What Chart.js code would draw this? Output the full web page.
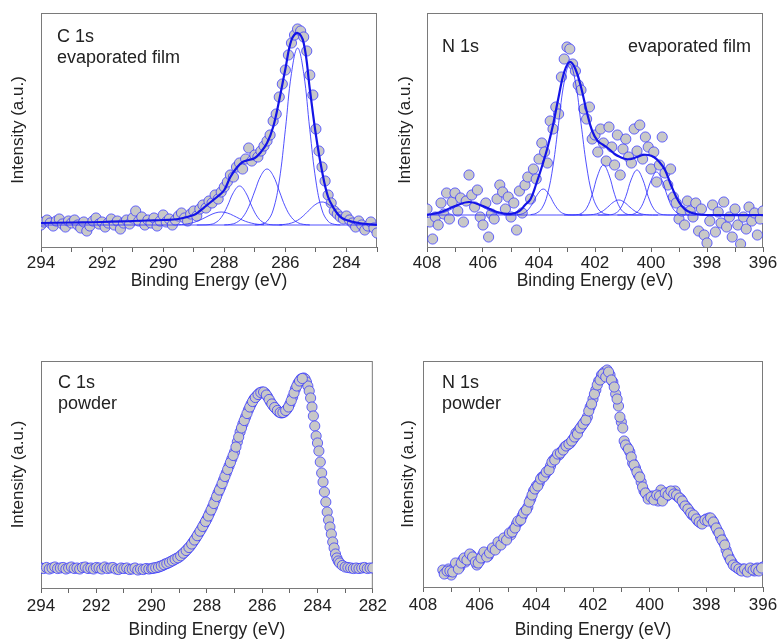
<!DOCTYPE html>
<html>
<head>
<meta charset="utf-8">
<script src="https://cdn.jsdelivr.net/npm/chart.js@4.4.1/dist/chart.umd.min.js"></script>
<style>
  html, body { margin: 0; padding: 0; background: #fff; }
  #wrap { position: relative; width: 783px; height: 643px; }
  canvas { position: absolute; }
</style>
</head>
<body>
<div id="wrap">
  <canvas id="c1sFilm" width="390" height="310" style="left:0;top:0"></canvas>
  <canvas id="n1sFilm" width="393" height="310" style="left:390px;top:0"></canvas>
  <canvas id="c1sPowder" width="390" height="323" style="left:0;top:320px"></canvas>
  <canvas id="n1sPowder" width="393" height="323" style="left:390px;top:320px"></canvas>
</div>
<script>
// ---- C 1s, evaporated film: measured points (binding energy eV, intensity a.u.)
const c1sFilmE = [294.0,293.9,293.8,293.7,293.6,293.5,293.4,293.3,293.2,293.1,
  293.0,292.9,292.8,292.7,292.6,292.5,292.4,292.3,292.2,292.1,
  292.0,291.9,291.8,291.7,291.6,291.5,291.4,291.3,291.2,291.1,
  291.0,290.9,290.8,290.7,290.6,290.5,290.4,290.3,290.2,290.1,
  290.0,289.9,289.8,289.7,289.6,289.5,289.4,289.3,289.2,289.1,
  289.0,288.9,288.8,288.7,288.6,288.5,288.4,288.3,288.2,288.1,
  288.0,287.9,287.8,287.7,287.6,287.5,287.4,287.3,287.2,287.1,
  287.0,286.9,286.8,286.7,286.6,286.5,286.4,286.3,286.2,286.1,
  286.0,285.9,285.8,285.7,285.6,285.5,285.4,285.3,285.2,285.1,
  285.0,284.9,284.8,284.7,284.6,284.5,284.4,284.3,284.2,284.1,
  284.0,283.9,283.8,283.7,283.6,283.5,283.4,283.3,283.2,283.1,
  283.0];
const c1sFilmI = [22,25,27,24,21,26,28,23,20,26,
  24,27,22,19,25,16,21,26,29,23,
  25,20,24,28,22,26,18,24,27,23,
  29,36,26,30,22,27,24,29,21,26,
  32,25,28,22,27,31,34,29,26,33,
  36,31,38,42,39,46,44,52,48,55,
  60,65,72,70,80,84,78,88,99,86,
  92,90,96,101,106,112,126,133,150,163,
  177,192,204,212,218,216,210,196,172,152,
  118,96,80,66,52,44,36,33,30,28,
  31,27,24,20,26,22,17,21,25,19,
  14];
// fit envelope and baseline
const c1sFilmEnvE = [294,293,292,291,290.5,290,289.5,289.0,288.8,288.6,288.4,288.2,288.0,287.8,287.6,287.4,287.2,287.0,286.8,286.6,286.4,286.2,286.0,285.8,285.6,285.4,285.2,285.0,284.8,284.6,284.4,284.2,284.0,283.6,283.0];
const c1sFilmEnvI = [24,24.5,25,26,26.5,27,28,32,36,41,46,51,57,70,79,85,87,89,95,104,120,147,178,207,214,204,158,112,76,50,38,30,27,24,22];
const c1sFilmBaseE = [294, 283];
const c1sFilmBaseI = [22, 22];
// fit components
const c1sFilmPk1E = [289.5,289.3,289.1,288.9,288.7,288.5,288.3,288.1,287.9,287.7,287.5,287.3,287.1,286.9,286.7];
const c1sFilmPk1I = [22.3,22.7,23.8,25.6,28.3,31.4,34,35,34,31.4,28.3,25.6,23.8,22.7,22.3];
const c1sFilmPk2E = [288.9,288.7,288.5,288.3,288.1,287.9,287.7,287.5,287.3,287.1,286.9,286.7,286.5,286.3,286.1];
const c1sFilmPk2I = [22,22.1,22.4,24.1,29.5,40.7,54.5,61,54.5,40.7,29.5,24.1,22.4,22.1,22];
const c1sFilmPk3E = [288.0,287.8,287.6,287.4,287.2,287.0,286.8,286.6,286.4,286.2,286.0,285.8,285.6,285.4,285.2];
const c1sFilmPk3I = [22.1,22.6,24.5,29.6,40.2,56,71.4,78,71.4,56,40.2,29.6,24.5,22.6,22.1];
const c1sFilmPk4E = [287.0,286.8,286.6,286.4,286.2,286.0,285.8,285.6,285.4,285.2,285.0,284.8,284.6,284.4,284.2];
const c1sFilmPk4I = [22.1,22.7,25.7,37,66,117.4,173.7,199,173.7,117.4,66,37,25.7,22.7,22.1];
const c1sFilmPk5E = [286.2,286.0,285.8,285.6,285.4,285.2,285.0,284.8,284.6,284.4,284.2,284.0,283.8,283.6,283.4];
const c1sFilmPk5I = [22.2,22.7,24,26.7,31.5,37.5,42.8,45,42.8,37.5,31.5,26.7,24,22.7,22.2];

// ---- N 1s, evaporated film
const n1sFilmE = [408.0,407.9,407.8,407.7,407.6,407.5,407.4,407.3,407.2,407.1,
  407.0,406.9,406.8,406.7,406.6,406.5,406.4,406.3,406.2,406.1,
  406.0,405.9,405.8,405.7,405.6,405.5,405.4,405.3,405.2,405.1,
  405.0,404.9,404.8,404.7,404.6,404.5,404.4,404.3,404.2,404.1,
  404.0,403.9,403.8,403.7,403.6,403.5,403.4,403.3,403.2,403.1,
  403.0,402.9,402.8,402.7,402.6,402.5,402.4,402.3,402.2,402.1,
  402.0,401.9,401.8,401.7,401.6,401.5,401.4,401.3,401.2,401.1,
  401.0,400.9,400.8,400.7,400.6,400.5,400.4,400.3,400.2,400.1,
  400.0,399.9,399.8,399.7,399.6,399.5,399.4,399.3,399.2,399.1,
  399.0,398.9,398.8,398.7,398.6,398.5,398.4,398.3,398.2,398.1,
  398.0,397.9,397.8,397.7,397.6,397.5,397.4,397.3,397.2,397.1,
  397.0,396.9,396.8,396.7,396.6,396.5,396.4,396.3,396.2,396.1,
  396.0];
const n1sFilmI = [38,25,8,30,22,44,33,54,28,45,
  54,36,49,25,46,72,52,40,57,30,
  22,44,10,33,28,48,62,55,38,50,
  30,44,17,56,34,62,70,48,78,68,
  88,104,95,84,126,118,140,133,170,188,
  200,198,183,176,162,157,138,128,140,108,
  112,95,118,104,86,120,100,82,112,72,
  98,108,90,84,118,96,122,88,110,100,
  78,95,65,82,110,74,62,78,50,44,
  28,36,22,46,36,30,44,16,38,12,
  4,26,42,15,35,24,45,20,30,10,
  38,22,3,30,18,40,26,34,12,28,
  36];
const n1sFilmEnvE = [408,407.5,407.0,406.5,406.0,405.5,405.0,404.7,404.5,404.3,404.1,403.9,403.7,403.5,403.3,403.1,402.9,402.7,402.5,402.3,402.1,401.9,401.7,401.5,401.3,401.1,400.9,400.7,400.5,400.3,400.1,399.9,399.7,399.5,399.3,399.1,398.9,398.7,398.4,398.0,396];
const n1sFilmEnvI = [32,35,41,45,41,35,33,36,42,48,63,80,99,122,150,175,185,178,160,136,116,106,102,98,93,90,88,88,90,92,92,90,85,77,63,50,41,36,33,32,32];
const n1sFilmBaseE = [408, 396];
const n1sFilmBaseI = [32, 32];
const n1sFilmPk0E = [407.9,407.7,407.5,407.3,407.1,406.9,406.7,406.5,406.3,406.1,405.9,405.7,405.5,405.3,405.1];
const n1sFilmPk0I = [32.3,32.7,33.8,35.6,38.3,41.4,44,45,44,41.4,38.3,35.6,33.8,32.7,32.3];
const n1sFilmPk1E = [405.25,405.05,404.85,404.65,404.45,404.25,404.05,403.85,403.65,403.45,403.25,403.05,402.85,402.65,402.45];
const n1sFilmPk1I = [32,32,32.1,32.7,35.5,42.7,52.8,58,52.8,42.7,35.5,32.7,32.1,32,32];
const n1sFilmPk2E = [404.3,404.1,403.9,403.7,403.5,403.3,403.1,402.9,402.7,402.5,402.3,402.1,401.9,401.7,401.5];
const n1sFilmPk2I = [32.3,33.7,38.6,52.4,81,123.7,165,183,165,123.7,81,52.4,38.6,33.7,32.3];
const n1sFilmPk3E = [403.1,402.9,402.7,402.5,402.3,402.1,401.9,401.7,401.5,401.3,401.1,400.9,400.7,400.5,400.3];
const n1sFilmPk3I = [32,32,32.2,33.4,38.8,52.6,72,82,72,52.6,38.8,33.4,32.2,32,32];
const n1sFilmPk4E = [402.55,402.35,402.15,401.95,401.75,401.55,401.35,401.15,400.95,400.75,400.55,400.35,400.15,399.95,399.75];
const n1sFilmPk4I = [32,32,32.3,33.1,35.5,39.8,44.7,47,44.7,39.8,35.5,33.1,32.3,32,32];
const n1sFilmPk5E = [401.9,401.7,401.5,401.3,401.1,400.9,400.7,400.5,400.3,400.1,399.9,399.7,399.5,399.3,399.1];
const n1sFilmPk5I = [32,32,32.2,33.3,38.1,50.5,68,77,68,50.5,38.1,33.3,32.2,32,32];
const n1sFilmPk6E = [401.2,401.0,400.8,400.6,400.4,400.2,400.0,399.8,399.6,399.4,399.2,399.0,398.8,398.6,398.4];
const n1sFilmPk6I = [32,32,32.2,33.2,37.8,49.7,66.4,75,66.4,49.7,37.8,33.2,32.2,32,32];

// ---- C 1s, powder
const c1sPowderE = [294.0,293.9,293.8,293.7,293.6,293.5,293.4,293.3,293.2,293.1,
  293.0,292.9,292.8,292.7,292.6,292.5,292.4,292.3,292.2,292.1,
  292.0,291.9,291.8,291.7,291.6,291.5,291.4,291.3,291.2,291.1,
  291.0,290.9,290.8,290.7,290.6,290.5,290.4,290.3,290.2,290.1,
  290.0,
  289.9,289.8,289.7,289.6,289.5,289.4,289.3,289.2,289.1,289.0,
  288.9,288.8,288.7,288.6,288.5,288.4,288.3,288.2,288.1,288.0,
  287.9,287.8,287.7,287.6,287.5,287.4,287.3,287.2,287.1,287.0,
  286.9,286.8,286.7,286.6,286.5,286.4,286.3,286.2,286.1,286.0,
  285.9,285.8,285.7,285.6,285.5,285.4,285.3,285.2,285.1,285.0,
  284.9,284.8,284.7,284.6,284.5,
  284.45,284.4,284.35,284.3,284.25,284.2,284.15,284.1,284.05,284.0,
  283.95,283.9,283.85,283.8,283.75,283.7,283.65,283.6,283.55,283.5,
  283.45,283.4,283.35,283.3,283.25,283.2,
  283.1,283.0,282.9,282.8,282.7,282.6,282.5,282.4,282.3,282.2,282.1,282.0];
const c1sPowderI = [20,19.5,20.5,19,20,21,19.5,20,20.5,19,
  20,21,19.5,20,19,20.5,21,19.5,20,19,
  20.5,20,19,21,19.5,20,20.5,19,18.5,20,
  19.5,20,18.5,19,20,18,19,18.5,19.5,19,
  19.5,
  20,20.5,21.5,22.5,24,25,26.5,28,29.5,31,
  33.5,36,39,42,46,50,54.5,59,64,69,
  75,81,88,95,101,108,115,122,129,136,
  146,156,164,171,178,184,189,192,195,196,
  195,191,186,182,179,176,175,176,179,184,
  191,199,205,209,210,
  209,206,202,197,190,181,172,162,152,145,
  137,126,115,106,96,86,76,68,61,54,
  46,40,34,30,27,25,
  22.5,21,20.5,20,19.5,20,19.5,20,20.5,19.5,20,20];
// second, interleaved scan points on the rising side
const c1sPowderE2 = [289.95,289.85,289.75,289.65,289.55,289.45,289.35,289.25,289.15,289.05,
  288.95,288.85,288.75,288.65,288.55,288.45,288.35,288.25,288.15,288.05,
  287.95,287.85,287.75,287.65,287.55,287.45,287.35,287.25,287.15,287.05,
  286.95,286.85,286.75,286.65,286.55,286.45,286.35,286.25,286.15,286.05,
  285.95,285.85,285.75,285.65,285.55,285.45,285.35,285.25,285.15,285.05,
  284.95,284.85,284.75,284.65,284.55];
const c1sPowderI2 = [19.8,20.3,21,22,23.3,24.5,25.8,27.2,28.8,30.2,
  32.2,34.8,37.5,40.5,44,48,52.3,56.8,61.5,66.5,
  72,78,84.5,91.5,98,104.5,111.5,118.5,125.5,132.5,
  141,151,160,167.5,174.5,181,186.5,190.5,193.5,195.5,
  196,193,188.5,184,180.5,177.5,175.5,175.5,177.5,181,
  187.5,195,202,207,209.5];

// ---- N 1s, powder
const n1sPowderE = [407.3,407.2,407.1,407.0,406.9,406.8,406.7,406.6,406.5,406.4,
  406.3,406.2,406.1,406.0,405.9,405.8,405.7,405.6,405.5,405.4,
  405.3,405.2,405.1,405.0,404.9,404.8,404.7,404.6,404.5,404.4,
  404.3,404.2,404.1,404.0,403.9,403.8,403.7,403.6,403.5,403.4,
  403.3,403.2,403.1,403.0,402.9,402.8,402.7,402.6,402.5,402.4,
  402.3,402.2,402.1,402.0,401.9,401.8,401.7,401.6,401.5,401.4,
  401.3,401.2,401.1,401.0,400.9,400.8,400.7,400.6,400.5,400.4,
  400.3,400.2,400.1,400.0,399.9,399.8,399.7,399.6,399.5,399.4,
  399.3,399.2,399.1,399.0,398.9,398.8,398.7,398.6,398.5,398.4,
  398.3,398.2,398.1,398.0,397.9,397.8,397.7,397.6,397.5,397.4,
  397.3,397.2,397.1,397.0,396.9,396.8,396.7,396.6,396.5,396.4,
  396.3,396.2,396.1,396.0];
const n1sPowderI = [17,14,18,12,19,22,20,27,25,30,
  32,28,22,26,32,33,31,36,38,41,
  43,46,48,51,52,58,63,66,71,76,
  80,88,96,101,104,110,112,116,121,127,
  130,132,136,140,142,144,148,154,157,161,
  165,170,180,188,197,206,212,215,217,212,
  205,193,181,165,146,140,135,124,119,112,
  105,96,92,90,91,88,86,97,90,91,
  95,94,96,90,88,83,80,76,72,70,
  66,64,66,68,69,67,62,56,50,45,
  37,30,25,21,19,17,18,16,17,18,
  16,19,18,20];
const n1sPowderE2 = [407.25,407.15,407.05,406.95,406.85,406.75,406.65,406.55,406.45,406.35,
  406.25,406.15,406.05,405.95,405.85,405.75,405.65,405.55,405.45,405.35,
  405.25,405.15,405.05,404.95,404.85,404.75,404.65,404.55,404.45,404.35,
  404.25,404.15,404.05,403.95,403.85,403.75,403.65,403.55,403.45,403.35,
  403.25,403.15,403.05,402.95,402.85,402.75,402.65,402.55,402.45,402.35,
  402.25,402.15,402.05,401.95,401.85,401.75,401.65,401.55,401.45,401.35,
  401.25,401.15,401.05,400.95,400.85,400.75,400.65,400.55,400.45,400.35,
  400.25,400.15,400.05,399.95,399.85,399.75,399.65,399.55,399.45,399.35,
  399.25,399.15,399.05,398.95,398.85,398.75,398.65,398.55,398.45,398.35,
  398.25,398.15,398.05,397.95,397.85,397.75,397.65,397.55,397.45,397.35,
  397.25,397.15,397.05,396.95,396.85,396.75,396.65,396.55,396.45,396.35,
  396.25,396.15,396.05];
const n1sPowderI2 = [13,16,16,15,24,18,24,29,27,33,
  30,25,24,29,35,30,34,39,37,45,
  42,49,47,54,55,59,66,67,74,77,
  85,92,98,101,108,110,115,117,125,127,
  133,134,137,141,143,146,150,153,159,163,
  167,176,183,193,202,207,213,210,215,207,
  200,188,170,159,142,138,130,122,115,110,
  100,94,88,90,87,92,91,86,94,92,
  96,93,92,89,86,81,78,74,72,68,
  65,63,67,66,69,65,59,54,47,42,
  33,27,22,20,18,16,18,15,19,17,
  18,16,19];

const FONT = "'Liberation Sans', Arial, sans-serif";
const TEXT = '#222';
const pts = (xs, ys) => xs.map((x, i) => ({ x, y: ys[i] }));

// gray box round the plot area
const frame = {
  id: 'frame',
  beforeDatasetsDraw(chart) {
    const { ctx, chartArea: a } = chart;
    ctx.save();
    ctx.strokeStyle = '#7a7a7a';
    ctx.lineWidth = 1;
    ctx.strokeRect(a.left + 0.5, a.top + 0.5, a.right - a.left - 1, a.bottom - a.top);
    ctx.restore();
  }
};

// in-plot labels like "C 1s" / "powder"
function notes(list) {
  return {
    id: 'notes',
    afterDraw(chart) {
      const ctx = chart.ctx;
      ctx.save();
      ctx.fillStyle = TEXT;
      ctx.font = '18px ' + FONT;
      ctx.textBaseline = 'alphabetic';
      list.forEach(n => {
        ctx.textAlign = n.align || 'left';
        ctx.fillText(n.text, n.x, n.y);
      });
      ctx.restore();
    }
  };
}

function makePanel(id, o) {
  const datasets = [];
  o.lines.forEach(l => datasets.push({
    data: pts(l[0], l[1]), showLine: true, pointRadius: 0, tension: 0.4,
    borderColor: l[2] ? '#1414e6' : 'rgba(50,50,255,0.85)', borderWidth: l[2] ? 2.2 : 1
  }));
  datasets.push({
    data: pts(o.e, o.i), showLine: false, pointRadius: 5.1, pointBorderWidth: 1,
    pointBackgroundColor: '#c8c8c8', pointBorderColor: 'rgba(55,55,255,0.75)'
  });

  new Chart(document.getElementById(id), {
    type: 'scatter',
    data: { datasets },
    options: {
      responsive: false, animation: false, devicePixelRatio: 1,
      layout: { padding: { left: 0, top: o.padTop, right: o.padRight, bottom: 0 } },
      plugins: { legend: { display: false }, tooltip: { enabled: false } },
      scales: {
        x: {
          type: 'linear', reverse: true, min: o.xmin, max: o.xmax,
          afterFit(s) { s.height = o.xh; },
          ticks: {
            stepSize: 1, autoSkip: false, maxRotation: 0, includeBounds: false, padding: o.tickPad,
            font: { size: 17, family: FONT }, color: TEXT,
            callback: v => (v % 2 === 0 ? String(v) : '')
          },
          grid: { drawOnChartArea: false, drawTicks: true, tickLength: 5, color: '#666', tickColor: '#666' },
          border: { display: false },
          title: { display: true, text: 'Binding Energy (eV)', color: TEXT,
                   font: { size: 17.5, family: FONT }, padding: { top: 0, bottom: o.xtPad } }
        },
        y: {
          min: 0, max: o.ymax,
          afterFit(s) { s.width = o.yw; },
          ticks: { display: false },
          grid: { display: false, drawTicks: false },
          border: { display: false },
          title: { display: true, text: 'Intensity (a.u.)', color: TEXT,
                   font: { size: 17, family: FONT }, padding: { top: o.ytPad, bottom: 0 } }
        }
      }
    },
    plugins: [frame, notes(o.notes)]
  });
}

makePanel('c1sFilm', {
  e: c1sFilmE, i: c1sFilmI, xmin: 283, xmax: 294, ymax: 234,
  yw: 41, padTop: 13, padRight: 13, xh: 63, tickPad: 1, xtPad: 18, ytPad: 8,
  lines: [
    [c1sFilmEnvE, c1sFilmEnvI, true],
    [c1sFilmBaseE, c1sFilmBaseI],
    [c1sFilmPk1E, c1sFilmPk1I], [c1sFilmPk2E, c1sFilmPk2I], [c1sFilmPk3E, c1sFilmPk3I],
    [c1sFilmPk4E, c1sFilmPk4I], [c1sFilmPk5E, c1sFilmPk5I]
  ],
  notes: [{ text: 'C 1s', x: 57, y: 42 }, { text: 'evaporated film', x: 57, y: 63 }]
});

makePanel('n1sFilm', {
  e: n1sFilmE, i: n1sFilmI, xmin: 396, xmax: 408, ymax: 234,
  yw: 37, padTop: 13, padRight: 20, xh: 63, tickPad: 1, xtPad: 18, ytPad: 5,
  lines: [
    [n1sFilmEnvE, n1sFilmEnvI, true],
    [n1sFilmBaseE, n1sFilmBaseI],
    [n1sFilmPk0E, n1sFilmPk0I], [n1sFilmPk1E, n1sFilmPk1I], [n1sFilmPk2E, n1sFilmPk2I],
    [n1sFilmPk3E, n1sFilmPk3I], [n1sFilmPk4E, n1sFilmPk4I], [n1sFilmPk5E, n1sFilmPk5I],
    [n1sFilmPk6E, n1sFilmPk6I]
  ],
  notes: [{ text: 'N 1s', x: 52, y: 52 }, { text: 'evaporated film', x: 361, y: 52, align: 'right' }]
});

makePanel('c1sPowder', {
  e: c1sPowderE.concat(c1sPowderE2), i: c1sPowderI.concat(c1sPowderI2),
  xmin: 282, xmax: 294, ymax: 227,
  yw: 41, padTop: 41, padRight: 13, xh: 55, tickPad: 3, xtPad: 2, ytPad: 8,
  lines: [],
  notes: [{ text: 'C 1s', x: 58, y: 68 }, { text: 'powder', x: 58, y: 89 }]
});

makePanel('n1sPowder', {
  e: n1sPowderE.concat(n1sPowderE2), i: n1sPowderI.concat(n1sPowderI2),
  xmin: 396, xmax: 408, ymax: 226,
  yw: 33, padTop: 41, padRight: 20, xh: 56, tickPad: 3, xtPad: 2, ytPad: 8,
  lines: [],
  notes: [{ text: 'N 1s', x: 52, y: 68 }, { text: 'powder', x: 52, y: 89 }]
});
</script>
</body>
</html>
